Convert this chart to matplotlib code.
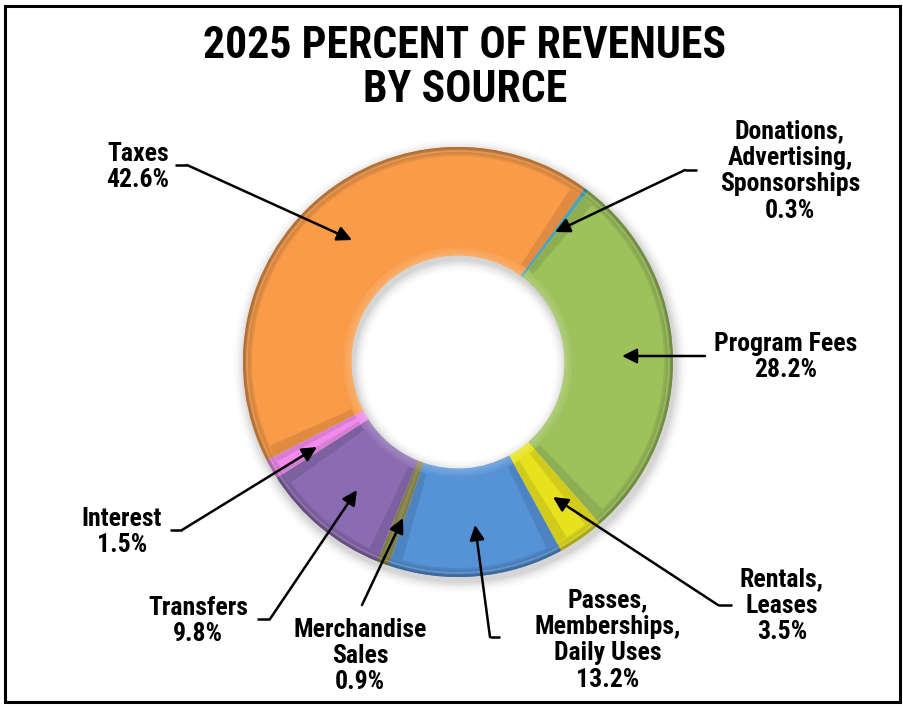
import os
import numpy as np
import matplotlib
matplotlib.use("Agg")
import matplotlib.pyplot as plt
from matplotlib import font_manager
from matplotlib.patches import Wedge, Rectangle
from matplotlib.colors import to_rgb

W, H = 904, 707

sources = ["Taxes", "Donations,\nAdvertising,\nSponsorships", "Program Fees",
           "Rentals,\nLeases", "Passes,\nMemberships,\nDaily Uses",
           "Merchandise\nSales", "Transfers", "Interest"]
shares = [42.6, 0.3, 28.2, 3.5, 13.2, 0.9, 9.8, 1.5]
colors = ["#F99B48", "#4BACC6", "#9DC15B", "#E8E21E", "#5592D6",
          "#8C8A52", "#8B6BB1", "#F08AEC"]

# label box centre, elbow start, elbow end, arrow tip (image px, y down)
label_pos = [(138, 167), (790, 171), (786, 357), (782, 606), (608, 640),
             (360, 656), (198, 621), (122, 532)]
leaders = [
    [(175, 165), (187, 165), (352, 240)],
    [(697, 170), (685, 170), (555, 232)],
    [(705, 356), (705, 356), (622, 356)],
    [(732, 605), (718, 605), (553, 497)],
    [(500, 637), (490, 637), (475, 525)],
    [(362, 605), (362, 605), (403, 518)],
    [(257, 619), (270, 619), (357, 490)],
    [(170, 530), (182, 530), (317, 447)],
]


def pick_narrow_bold():
    """Find a bold narrow/condensed face; fall back to Liberation Sans bold."""
    prefs = ["liberationsansnarrow", "robotocondensed", "notosans", "opensans", "dejavusans"]
    found = []
    for f in font_manager.fontManager.ttflist:
        base = os.path.basename(f.fname).lower().replace("-", "").replace("_", "")
        if f.style != "normal":
            continue
        if "extra" in base or "semi" in base or "ultra" in base:
            continue
        narrow = "narrow" in base or "condensed" in base or "cond" in base
        bold = "bold" in base and "semibold" not in base and "extrabold" not in base
        if narrow and bold:
            found.append((base, f.fname))
    for p in prefs:
        for base, fn in found:
            if base.startswith(p):
                return dict(fname=fn), True
    if found:
        return dict(fname=found[0][1]), True
    return dict(family=["Liberation Sans", "DejaVu Sans"], weight="bold"), False


fkw, is_narrow = pick_narrow_bold()
scale = 1.0 if is_narrow else 0.84


def fp(size):
    return font_manager.FontProperties(size=size * scale, **fkw)


fig = plt.figure(figsize=(W / 100, H / 100), dpi=100)
ax = fig.add_axes([0, 0, 1, 1])


def yy(y):
    return H - y


def shade(c, f):
    r = np.array(to_rgb(c))
    return tuple(np.clip(r * f, 0, 1))


def tint(c, f):
    r = np.array(to_rgb(c))
    return tuple(r + (1 - r) * f)


cx, cy, R, RW = 458, yy(362), 215, 108

# soft drop shadow under the ring
for k, a in enumerate(np.linspace(0.045, 0.01, 6)):
    ax.add_patch(Wedge((cx + 2, cy - 4), R + 2 + k * 2, 0, 360, width=RW + 4 + k * 4,
                       facecolor="black", alpha=a, lw=0, zorder=1))

wedges, _ = ax.pie(shares, colors=[shade(c, 0.9) for c in colors], radius=R,
                   center=(cx, cy), startangle=207.2, counterclock=False,
                   wedgeprops=dict(width=RW, linewidth=0), frame=False)
for w in wedges:
    w.set_zorder(2)

# bevelled face: dark outer bevel, light inner bevel, flat inset face
inset = 9
for w, c in zip(wedges, colors):
    t1, t2 = w.theta1, w.theta2
    span = t2 - t1
    d = min(np.degrees(inset / (R - RW / 2)), span * 0.3)
    for j, f in enumerate(np.linspace(0.72, 0.92, 5)):
        ax.add_patch(Wedge((cx, cy), R - j * inset / 5, t1, t2, width=inset / 5 + 0.5,
                           facecolor=shade(c, f), lw=0, zorder=2.2))
    for j, f in enumerate(np.linspace(0.04, 0.18, 4)):
        ax.add_patch(Wedge((cx, cy), R - RW + inset - j * inset / 4, t1, t2,
                           width=inset / 4 + 0.5, facecolor=tint(c, f), lw=0, zorder=2.2))
    ax.add_patch(Wedge((cx, cy), R - inset, t1 + d, t2 - d, width=RW - 2 * inset,
                       facecolor=c, lw=0, zorder=3))
    # gloss just inside the outer rim
    ax.add_patch(Wedge((cx, cy), R - 3, t1, t2, width=2,
                       facecolor=tint(c, 0.3), lw=0, zorder=4, alpha=0.45))

for lab, v, (lx, ly), pts in zip(sources, shares, label_pos, leaders):
    ax.text(lx, yy(ly), f"{lab}\n{v:.1f}%", ha="center", va="center",
            fontproperties=fp(18.5), linespacing=1.13, color="black", zorder=6)
    (x0, y0), (x1, y1), (x2, y2) = pts
    ax.plot([x0, x1], [yy(y0), yy(y1)], color="black", lw=1.8,
            solid_capstyle="butt", zorder=6)
    ax.annotate("", xy=(x2, yy(y2)), xytext=(x1, yy(y1)),
                arrowprops=dict(arrowstyle="-|>", color="black", lw=1.8,
                                mutation_scale=22, shrinkA=0, shrinkB=0), zorder=6)

ax.text(465, yy(68), "2025 PERCENT OF REVENUES\nBY SOURCE", ha="center", va="center",
        fontproperties=fp(31.5), linespacing=1.05, zorder=6)

ax.add_patch(Rectangle((5, yy(702)), 895, 696, facecolor="none", edgecolor="black",
                       lw=2.2, zorder=7))

ax.set_xlim(0, W)
ax.set_ylim(0, H)
ax.set_aspect("equal")
ax.set_axis_off()
fig.savefig("out.png", dpi=100, facecolor="white")
